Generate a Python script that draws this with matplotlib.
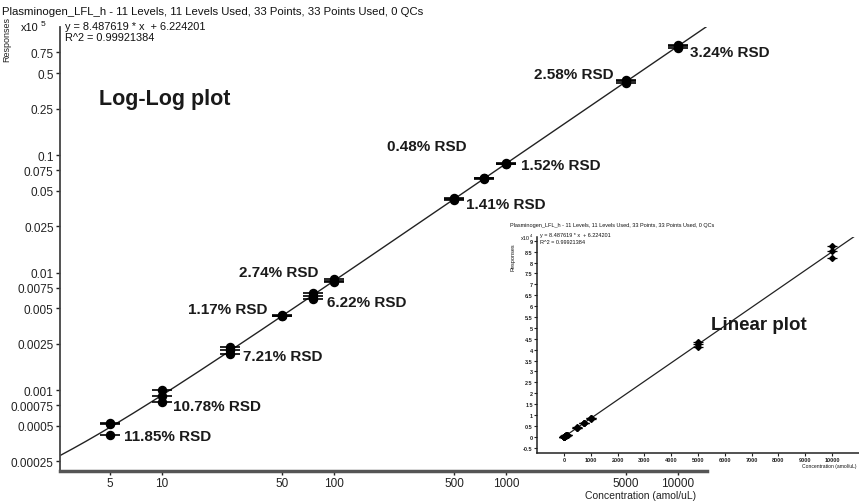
import numpy as np
import matplotlib
matplotlib.use('Agg')
import matplotlib.pyplot as plt
from matplotlib.ticker import FixedLocator, NullLocator

# calibration levels (amol/uL)
conc = [5, 10, 25, 50, 75, 100, 500, 750, 1000, 5000, 10000]
# three replicate responses per level, in units of x10^5
resp = [
    [0.000530, 0.000520, 0.000420],
    [0.001000, 0.000900, 0.000800],
    [0.002350, 0.002200, 0.002040],
    [0.004360, 0.004310, 0.004260],
    [0.006800, 0.006400, 0.006000],
    [0.008800, 0.008600, 0.008400],
    [0.043000, 0.042400, 0.041800],
    [0.064000, 0.063700, 0.063400],
    [0.086200, 0.085000, 0.083600],
    [0.435000, 0.425000, 0.414000],
    [0.875000, 0.852000, 0.820000],
]
rsd = ['11.85% RSD', '10.78% RSD', '7.21% RSD', '1.17% RSD', '6.22% RSD',
       '2.74% RSD', '1.41% RSD', '0.48% RSD', '1.52% RSD', '2.58% RSD',
       '3.24% RSD']
slope = 8.487619
intercept = 6.224201
r2 = 0.99921384

ytick_vals = [0.00025, 0.0005, 0.00075, 0.001, 0.0025, 0.005, 0.0075, 0.01,
              0.025, 0.05, 0.075, 0.1, 0.25, 0.5, 0.75]
ytick_labels = ['0.00025', '0.0005', '0.00075', '0.001', '0.0025', '0.005',
                '0.0075', '0.01', '0.025', '0.05', '0.075', '0.1', '0.25',
                '0.5', '0.75']
xtick_vals = [5, 10, 50, 100, 500, 1000, 5000, 10000]
xtick_labels = ['5', '10', '50', '100', '500', '1000', '5000', '10000']

lin_xticks = [0, 1000, 2000, 3000, 4000, 5000, 6000, 7000, 8000, 9000, 10000]
lin_yticks = [-0.5, 0, 0.5, 1, 1.5, 2, 2.5, 3, 3.5, 4, 4.5, 5, 5.5, 6, 6.5,
              7, 7.5, 8, 8.5, 9]

title = ('Plasminogen_LFL_h - 11 Levels, 11 Levels Used, 33 Points, '
         '33 Points Used, 0 QCs')

# label offsets in pixels from each level (layout only)
lbl_off = [(14, -9, 'left'), (11, -11, 'left'), (13, -6, 'left'),
           (-15, 7, 'right'), (14, -7, 'left'), (-16, 9, 'right'),
           (12, -5, 'left'), (-18, 32, 'right'), (15, -1, 'left'),
           (-13, 8, 'right'), (12, -6, 'left')]

FONT = ['Liberation Sans', 'DejaVu Sans']
INK = '#1a1a1a'

W, H = 859, 502
fig = plt.figure(figsize=(W / 100, H / 100), dpi=100)
fig.patch.set_facecolor('white')

# ---------- main log-log axes ----------
ax = fig.add_axes([60 / W, 1 - 472 / H, 647 / W, 444 / H])
ax.set_xscale('log')
ax.set_yscale('log')
ax.set_xlim(2.55, 14760)
ax.set_ylim(0.000206, 1.236)

xs = np.repeat(conc, 3)
ys = np.array(resp).ravel()

xl = np.geomspace(2.55, 14760, 300)
ax.plot(xl, (slope * xl + intercept) / 1e5, color='#222222', lw=1.0)
ax.plot(xs, ys, ls='none', marker='o', ms=5.8, color='black')
ax.plot(xs, ys, ls='none', marker='_', ms=14, mew=1.2, color='black')

for c, lab, (dx, dy, ha) in zip(conc, rsd, lbl_off):
    yc = (slope * c + intercept) / 1e5
    ax.annotate(lab, xy=(c, yc), xytext=(dx, dy), textcoords='offset pixels',
                ha=ha, va='center', fontsize=11, fontweight='bold',
                family=FONT, color=INK)

fig.text(99 / W, 1 - 100 / H, 'Log-Log plot', ha='left', va='center',
         fontsize=15.5, fontweight='bold', family=FONT, color=INK)

for s in ['top', 'right']:
    ax.spines[s].set_visible(False)
ax.spines['left'].set_color('#444444')
ax.spines['left'].set_linewidth(1.3)
ax.spines['bottom'].set_color('#555555')
ax.spines['bottom'].set_linewidth(2.5)

ax.yaxis.set_major_locator(FixedLocator(ytick_vals))
ax.set_yticklabels(ytick_labels)
ax.yaxis.set_minor_locator(NullLocator())
ax.xaxis.set_major_locator(FixedLocator(xtick_vals))
ax.set_xticklabels(xtick_labels)
ax.xaxis.set_minor_locator(NullLocator())
ax.tick_params(axis='both', direction='out', length=3, width=1,
               labelsize=8.5, pad=1.5, colors='#222222')
for t in ax.get_xticklabels() + ax.get_yticklabels():
    t.set_family(FONT)

fig.text(641 / W, 1 - 496 / H, 'Concentration (amol/uL)', ha='center',
         va='center', fontsize=7.5, family=FONT, color='#222222')
fig.text(7 / W, 1 - 40 / H, 'Responses', rotation=90, ha='center',
         va='center', fontsize=6.5, family=FONT, color='#222222')

fig.text(2 / W, 1 - 12 / H, title, ha='left', va='center', fontsize=8.2,
         family=FONT, color='#111111')
fig.text(21 / W, 1 - 28 / H, 'x10', ha='left', va='center', fontsize=7.9,
         family=FONT, color='#111111')
fig.text(41 / W, 1 - 25 / H, '5', ha='left', va='center', fontsize=6,
         family=FONT, color='#111111')
fig.text(65 / W, 1 - 27 / H, f'y = {slope} * x  + {intercept}', ha='left',
         va='center', fontsize=7.9, family=FONT, color='#111111')
fig.text(65 / W, 1 - 38 / H, f'R^2 = {r2}', ha='left', va='center',
         fontsize=7.9, family=FONT, color='#111111')

# ---------- linear inset ----------
ax2 = fig.add_axes([537 / W, 1 - 454 / H, 322 / W, 216 / H])
ax2.set_facecolor('white')
ax2.set_xlim(-1007, 11007)
ax2.set_ylim(-0.74, 9.17)
xl2 = np.linspace(0, 12000, 50)
ax2.plot(xl2, (slope * xl2 + intercept) / 1e4, color='#222222', lw=0.9)
ax2.plot(xs, ys * 10, ls='none', marker='D', ms=3.0, color='black')
ax2.plot(xs, ys * 10, ls='none', marker='_', ms=7, mew=0.9, color='black')
for s in ['top', 'right']:
    ax2.spines[s].set_visible(False)
for s in ['left', 'bottom']:
    ax2.spines[s].set_color('#222222')
    ax2.spines[s].set_linewidth(1.1)
ax2.set_xticks(lin_xticks)
ax2.set_xticklabels([str(v) for v in lin_xticks])
ax2.set_yticks(lin_yticks)
ax2.set_yticklabels([f'{v:g}' for v in lin_yticks])
ax2.tick_params(axis='both', direction='out', length=2, width=0.8,
                labelsize=4, pad=1, colors='#222222')
for t in ax2.get_xticklabels() + ax2.get_yticklabels():
    t.set_fontweight('bold')
    t.set_family(FONT)

fig.text(711 / W, 1 - 326 / H, 'Linear plot', ha='left', va='center',
         fontsize=13.5, fontweight='bold', family=FONT, color=INK)
fig.text(510 / W, 1 - 225 / H, title, ha='left', va='center', fontsize=4,
         family=FONT, color='#111111')
fig.text(521 / W, 1 - 238 / H, 'x10', ha='left', va='center', fontsize=4,
         family=FONT, color='#111111')
fig.text(530 / W, 1 - 236 / H, '4', ha='left', va='center', fontsize=3,
         family=FONT, color='#111111')
fig.text(540 / W, 1 - 236 / H, f'y = {slope} * x  + {intercept}', ha='left',
         va='center', fontsize=4, family=FONT, color='#111111')
fig.text(540 / W, 1 - 242 / H, f'R^2 = {r2}', ha='left', va='center',
         fontsize=4, family=FONT, color='#111111')
fig.text(513 / W, 1 - 257 / H, 'Responses', rotation=90, ha='center',
         va='center', fontsize=4, family=FONT, color='#111111')
fig.text(857 / W, 1 - 467 / H, 'Concentration (amol/uL)', ha='right',
         va='center', fontsize=3.6, family=FONT, color='#111111')

fig.savefig('out.png', dpi=100, facecolor='white')
